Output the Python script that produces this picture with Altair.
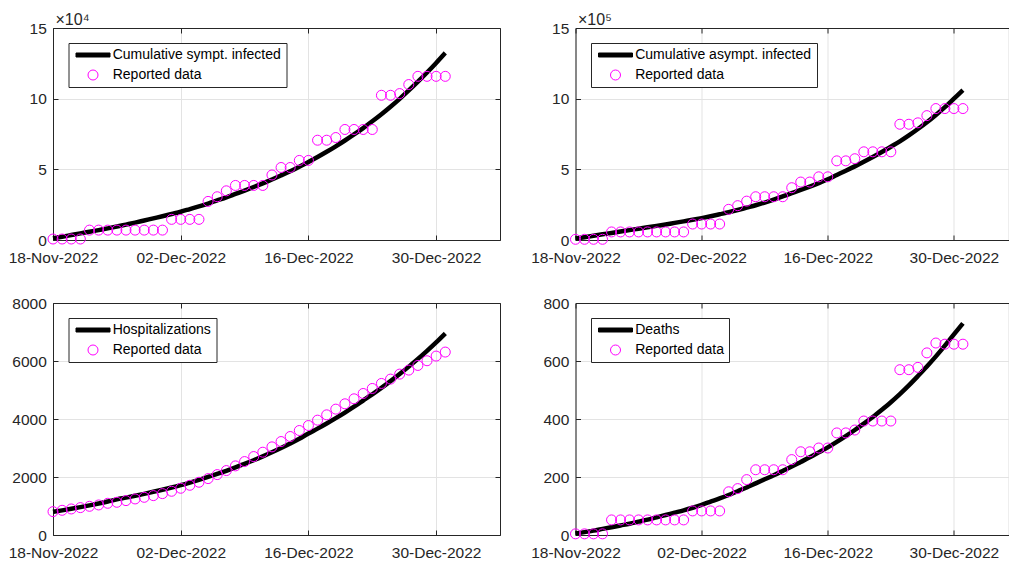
import altair as alt
import pandas as pd

# ---------------- data ----------------
dates = pd.date_range("2022-11-18", periods=44, freq="D").strftime("%Y-%m-%d").tolist()

sympt_model = [1200, 2300, 3500, 4700, 5800, 7000, 8200, 9500, 10900, 12300, 13800,
               15300, 16800, 18400, 20000, 21900, 23800, 25800, 28000, 30200, 32600,
               35000, 37500, 40100, 42800, 45700, 48700, 51900, 55200, 58700, 62400,
               66300, 70400, 74700, 79200, 84000, 89000, 94300, 99900, 105800, 112000,
               118500, 125300, 132400]
sympt_data = [700, 700, 700, 700, 7000, 7000, 7000, 7000, 7000, 7000, 7000, 7000, 7000,
              14600, 14600, 14600, 14600, 27300, 30600, 34800, 38600, 38600, 38600, 38600,
              46000, 51300, 51300, 56300, 56300, 70600, 70600, 72500, 78200, 78200, 78200,
              78200, 102400, 102400, 103600, 110000, 115800, 115800, 115800, 115800]

asympt_model = [10000, 20000, 30000, 40000, 50000, 60000, 70000, 80000, 90000, 100000,
                110000, 121000, 132000, 143000, 155000, 168000, 182000, 196000, 212000,
                229000, 246000, 265000, 286000, 308000, 331000, 354000, 378000, 403000,
                430000, 460000, 490000, 521000, 554000, 588000, 623000, 660000, 698000,
                740000, 785000, 833000, 885000, 940000, 1000000, 1060000]
asympt_data = [5000, 5000, 5000, 5000, 57000, 57000, 57000, 57000, 57000, 57000, 57000,
               57000, 57000, 113000, 113000, 113000, 113000, 217000, 243000, 275000,
               306000, 306000, 306000, 306000, 370000, 410000, 410000, 447000, 447000,
               560000, 560000, 575000, 624000, 624000, 624000, 624000, 819000, 819000,
               829000, 880000, 930000, 930000, 930000, 930000]

hosp_model = [800, 850, 904, 961, 1021, 1085, 1154, 1230, 1290, 1353, 1419, 1489, 1562,
              1638, 1720, 1809, 1903, 2002, 2106, 2215, 2330, 2450, 2577, 2711, 2852,
              3000, 3156, 3320, 3500, 3668, 3844, 4029, 4222, 4425, 4637, 4850, 5073,
              5306, 5550, 5806, 6073, 6352, 6644, 6950]
hosp_data = [806, 852, 898, 944, 990, 1036, 1094, 1128, 1186, 1243, 1300, 1358, 1427,
             1508, 1612, 1715, 1819, 1945, 2083, 2222, 2383, 2532, 2705, 2855, 3039,
             3223, 3396, 3603, 3775, 3960, 4144, 4340, 4524, 4696, 4880, 5053, 5226,
             5376, 5548, 5686, 5847, 6009, 6170, 6308]

death_model = [5, 10, 15, 21, 27, 33, 39, 46, 53, 61, 69, 77, 85, 94, 104, 115, 126, 138,
               151, 164, 178, 192, 206, 221, 236, 252, 268, 285, 302, 321, 341, 362, 384,
               407, 432, 458, 486, 516, 548, 581, 616, 653, 692, 730]
death_data = [4, 4, 4, 4, 52, 52, 52, 52, 52, 52, 52, 52, 52, 83, 83, 83, 83, 149, 160,
              191, 225, 225, 225, 225, 260, 287, 287, 300, 300, 352, 352, 362, 393, 393,
              393, 393, 570, 570, 578, 628, 662, 658, 658, 658]

labels = ["Cumulative sympt. infected", "Cumulative asympt. infected",
          "Hospitalizations", "Deaths"]
data_label = "Reported data"

# ---------------- styling ----------------
FONT = "Liberation Sans"
AX = "#262626"
GRID = "#e3e3e3"
MAG = "#ff00ff"
LINE_SHAPE = "M-3.4,-0.4H3.4V0.4H-3.4Z"


def dt(y, m, d, h=0, mi=0):
    return alt.DateTime(year=y, month=m, date=d, hours=h, minutes=mi, utc=True)


x_ticks = [dt(2022, 11, 18), dt(2022, 12, 2), dt(2022, 12, 16), dt(2022, 12, 30)]

tick = dict(domainColor=AX, domainWidth=1, tickColor=AX, tickWidth=1,
            tickSize={"expr": "-5"})


def panel(model, data, label, ymax, ystep, div, exponent, width, height, xend, right_axis):
    df_m = pd.DataFrame({"date": dates, "value": model})
    df_d = pd.DataFrame({"date": dates, "value": data, "series": [data_label] * len(data)})
    xscale = alt.Scale(type="utc", domain=[dt(2022, 11, 18), xend], nice=False)
    yscale = alt.Scale(domain=[0, ymax], nice=False, zero=False)
    yvals = list(range(0, ymax + 1, ystep))

    x_bottom = alt.Axis(orient="bottom", values=x_ticks, format="%d-%b-%Y", grid=True,
                        gridColor=GRID, gridWidth=1, labelFont=FONT, labelFontSize=15.5,
                        labelColor=AX, labelPadding=15, labelFlush=False,
                        labelOverlap=False, title=None, **tick)
    yl = dict(orient="left", values=yvals, grid=True, gridColor=GRID, gridWidth=1,
              labelFont=FONT, labelFontSize=15.5, labelColor=AX, labelPadding=11.7,
              labelFlush=False, labelOverlap=False, title=None, **tick)
    if div != 1:
        yl["labelExpr"] = f"'' + datum.value / {div}"
    else:
        yl["format"] = "d"
    y_left = alt.Axis(**yl)

    xt = dict(orient="top", values=x_ticks, grid=False, labels=False, **tick)
    if exponent:
        xt.update(title=exponent, titleX=2, titleY=-4, titleAlign="left",
                  titleBaseline="alphabetic", titleAngle=0, titleFont=FONT,
                  titleFontSize=16, titleFontWeight="normal", titleColor=AX)
    else:
        xt["title"] = None
    x_top = alt.Axis(**xt)

    dom = [label, data_label]
    leg = alt.Legend(orient="none", legendX=15.5, legendY=15, title=None,
                     fillColor="white", strokeColor=AX, padding=5,
                     labelFont=FONT, labelFontSize=14, labelColor="black",
                     labelLimit=400, symbolSize=100, symbolOffset=12.5,
                     labelOffset=12.7, rowPadding=6, symbolStrokeWidth=1)

    line = alt.Chart(df_m).mark_line(color="black", strokeWidth=4.5,
                                     interpolate="monotone").encode(
        x=alt.X("date:T", scale=xscale, axis=x_bottom),
        y=alt.Y("value:Q", scale=yscale, axis=y_left),
    )
    if right_axis:
        y_r = alt.Axis(orient="right", values=yvals, grid=False, labels=False,
                       title=None, **tick)
    else:
        y_r = None
    pts = alt.Chart(df_d).mark_point(filled=False, size=100, strokeWidth=1,
                                     opacity=1).encode(
        x=alt.X("date:T", scale=xscale, axis=x_top),
        y=alt.Y("value:Q", scale=yscale, axis=y_r),
        stroke=alt.Stroke("series:N", scale=alt.Scale(domain=dom, range=["black", MAG]),
                          legend=leg),
        fill=alt.Fill("series:N", scale=alt.Scale(domain=dom, range=["black", "transparent"]),
                      legend=leg),
        shape=alt.Shape("series:N", scale=alt.Scale(domain=dom, range=[LINE_SHAPE, "circle"]),
                        legend=leg),
    )
    return alt.layer(line, pts).resolve_axis(x="independent", y="independent").properties(
        width=width, height=height)


WL, WR = 447, 433
H1, H2 = 212, 232
xend_l = dt(2023, 1, 6)
xend_r = dt(2023, 1, 5, 1, 26)

tl = panel(sympt_model, sympt_data, labels[0], 150000, 50000, 10000, "×10⁴", WL, H1, xend_l, True)
tr = panel(asympt_model, asympt_data, labels[1], 1500000, 500000, 100000, "×10⁵", WR, H1, xend_r, False)
bl = panel(hosp_model, hosp_data, labels[2], 8000, 2000, 1, None, WL, H2, xend_l, True)
br = panel(death_model, death_data, labels[3], 800, 200, 1, None, WR, H2, xend_r, False)

chart = alt.concat(tl, tr, bl, br, columns=2, spacing={"row": 63, "column": 75.5},
                   bounds="flush").resolve_scale(
    x="independent", y="independent", stroke="independent", fill="independent",
    shape="independent").resolve_legend(
    stroke="independent", fill="independent", shape="independent").properties(
    padding={"left": 7, "top": 10, "right": 0, "bottom": 0}
).configure_view(stroke=None).configure(background="white")

chart.save("out.html", embed_options={"renderer": "svg", "actions": False})
